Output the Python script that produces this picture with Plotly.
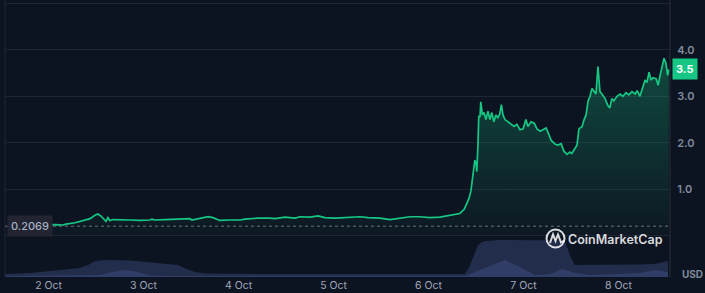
import datetime as dt
import math
import plotly.graph_objects as go

BASE = dt.datetime(2024, 10, 1, 13, 0)

# Price series: hours since BASE, price in USD
price_hours = [0.8, 3.8, 6.3, 9.6, 12.6, 14.7, 15.4, 17.7, 20.2, 21.5, 22.7, 23.5, 24.3, 25.0, 25.5,
               26.0, 26.5, 27.3, 29.1, 31.6, 34.1, 36.6, 37.1, 37.9, 40.4, 42.9, 46.7, 47.2, 49.3,
               51.3, 52.5, 54.3, 56.8, 59.4, 60.6, 63.9, 66.9, 68.2, 70.7, 73.3, 74.5, 77.1, 79.1,
               80.8, 83.4, 85.9, 88.4, 89.7, 91.7, 94.7, 97.3, 99.8, 102.3, 104.8, 107.4, 109.9,
               111.2, 112.9, 113.7, 114.9, 116.0, 116.7, 117.2, 117.7, 118.1, 118.5, 118.7, 119.0,
               119.2, 119.5, 119.7, 120.0, 120.2, 120.6, 121.0, 121.5, 122.0, 122.5, 123.0, 123.5,
               124.0, 124.5, 125.0, 125.4, 125.8, 126.3, 127.1, 127.8, 128.6, 129.3, 130.1, 130.9,
               131.6, 132.1, 132.9, 133.7, 134.4, 135.2, 135.9, 136.7, 137.2, 138.0, 139.0, 139.7,
               140.5, 141.2, 142.0, 142.7, 143.2, 144.0, 144.5, 145.0, 145.8, 146.3, 146.8, 147.3,
               147.8, 148.3, 148.8, 149.3, 149.8, 150.3, 150.8, 151.6, 152.3, 152.8, 153.3, 153.8,
               154.6, 155.4, 156.1, 156.9, 157.6, 158.4, 159.2, 159.7, 160.4, 160.9, 161.7, 162.2,
               162.7, 163.2, 163.7, 164.5, 165.0, 165.5, 166.0, 166.5, 167.0, 167.4, 167.7]
price_values = [0.23, 0.235, 0.24, 0.245, 0.24, 0.232, 0.25, 0.28, 0.33, 0.37, 0.44, 0.47, 0.42, 0.36, 0.31,
                0.39, 0.33, 0.35, 0.35, 0.34, 0.33, 0.34, 0.36, 0.34, 0.35, 0.36, 0.37, 0.34, 0.38,
                0.41, 0.39, 0.33, 0.34, 0.34, 0.36, 0.38, 0.38, 0.37, 0.40, 0.38, 0.41, 0.40, 0.43,
                0.39, 0.38, 0.39, 0.40, 0.41, 0.39, 0.38, 0.35, 0.38, 0.41, 0.41, 0.39, 0.40,
                0.42, 0.45, 0.46, 0.48, 0.57, 0.69, 0.80, 0.96, 1.2, 1.46, 1.63, 1.55,
                1.38, 2.0, 2.58, 2.55, 2.88, 2.6, 2.65, 2.5, 2.68, 2.5, 2.65, 2.45,
                2.6, 2.54, 2.62, 2.82, 2.6, 2.5, 2.45, 2.42, 2.35, 2.4, 2.28, 2.3,
                2.5, 2.35, 2.45, 2.42, 2.3, 2.25, 2.28, 2.32, 2.22, 2.05, 1.97, 1.95,
                1.98, 1.82, 1.75, 1.8, 1.77, 1.87, 1.95, 2.3, 2.35, 2.5, 2.6, 2.9,
                3.0, 3.17, 3.12, 3.05, 3.64, 3.1, 3.05, 2.95, 2.8, 2.75, 2.95, 2.9,
                3.0, 3.05, 3.0, 3.08, 3.03, 3.1, 3.05, 3.12, 3.0, 3.15, 3.35, 3.3,
                3.52, 3.35, 3.4, 3.38, 3.24, 3.45, 3.62, 3.82, 3.7, 3.45, 3.58]

# Volume (two area layers), arbitrary units
vol_outer_hours = [0, 6.3, 11.4, 18.9, 21.0, 22.2, 24.0, 26.5, 31.6, 36.6, 41.7, 43.7, 45.5, 48.0, 50.5,
                   64.4, 87.2, 116.2, 117.0, 117.5, 118.5, 119.5, 120.5, 121.5, 125.0, 130.1, 135.2,
                   140.2, 141.5, 142.2, 143.0, 144.0, 146.5, 150.3, 155.4, 160.4, 164.2, 167.5]
vol_outer_values = [3, 4, 6, 9, 12, 15, 16.5, 17, 16.5, 14.5, 13, 12, 8.5, 5, 3.5,
                    3, 3, 3, 8, 12, 22, 32, 35, 36, 37, 37, 37,
                    36.5, 35, 28, 19, 12, 12, 12.5, 12, 12.5, 13, 16]
vol_inner_hours = [0, 22.7, 24.0, 27.0, 30.3, 33.6, 36.6, 41.7, 116.2, 120.0, 126.3, 130.1, 133.9,
                   137.7, 140.8, 144.0, 147.8, 155.4, 160.4, 164.2, 167.5]
vol_inner_values = [1, 1.5, 2, 5, 7, 5, 1.5, 1, 1, 7, 17, 10, 2,
                    3, 8, 4, 2, 3, 4, 7, 5]

ref_price = 0.2069
tick_days = [2, 3, 4, 5, 6, 7, 8]
tick_labels = [f"{d} Oct" for d in tick_days]
y_ticks = [0, 1, 2, 3, 4, 5]
y_labels = ["", "1.0", "2.0", "3.0", "4.0", ""]

BG = "#0d1421"
GREEN = "#16c784"


def to_time(hours):
    return [BASE + dt.timedelta(hours=h) for h in hours]


fig = go.Figure()

fig.add_trace(go.Scatter(
    x=to_time(vol_outer_hours), y=vol_outer_values, yaxis="y2", mode="lines",
    line=dict(width=0, color="rgba(60,75,125,0.5)"), fill="tozeroy",
    fillcolor="rgba(52,66,112,0.55)", hoverinfo="skip", showlegend=False))
fig.add_trace(go.Scatter(
    x=to_time(vol_inner_hours), y=vol_inner_values, yaxis="y2", mode="lines",
    line=dict(width=0, color="rgba(70,85,140,0.5)"), fill="tozeroy",
    fillcolor="rgba(66,82,135,0.45)", hoverinfo="skip", showlegend=False))

fig.add_trace(go.Scatter(
    x=to_time(price_hours), y=price_values, mode="lines",
    line=dict(color=GREEN, width=1.7), fill="tozeroy",
    fillgradient=dict(type="vertical", start=0, stop=3.8,
                      colorscale=[[0, "rgba(22,199,132,0.02)"], [1, "rgba(22,199,132,0.30)"]]),
    showlegend=False))

x0 = BASE
x1 = BASE + dt.timedelta(hours=168)
last = price_values[-1]
badge_text = f"{math.floor(last * 10) / 10:.1f}"

fig.update_layout(
    width=705, height=293,
    margin=dict(l=5, r=35, t=0, b=16),
    paper_bgcolor=BG, plot_bgcolor=BG,
    font=dict(family="Inter, Noto Sans, sans-serif", color="#a1a7bb", size=11),
    xaxis=dict(type="date", range=[x0, x1], showgrid=False, zeroline=False, showline=False,
               automargin=False,
               tickvals=[dt.datetime(2024, 10, d) for d in tick_days], ticktext=tick_labels,
               ticks="", ticklen=0,
               tickfont=dict(size=10.5, color="#a1a7bb")),
    yaxis=dict(side="right", range=[-0.886, 5.071], tickvals=y_ticks, ticktext=y_labels,
               automargin=False,
               showgrid=True, gridcolor="#1e2533", gridwidth=1, zeroline=False, showline=False,
               ticks="outside", ticklen=4, tickcolor=BG,
               tickfont=dict(size=11, color="#808a9d", family="Inter, sans-serif", weight=600)),
    yaxis2=dict(domain=[0, 41 / 277], range=[0, 41], visible=False, anchor="x"),
    shapes=[
        dict(type="line", xref="paper", yref="paper", x0=0, x1=0, y0=0, y1=1,
             line=dict(color="#1e2533", width=1)),
        dict(type="line", xref="paper", yref="paper", x0=1, x1=1, y0=0, y1=1,
             line=dict(color="#2a303d", width=1)),
        dict(type="line", xref="paper", yref="y", x0=0, x1=1, y0=ref_price, y1=ref_price,
             line=dict(color="#6b7080", width=1, dash="dot")),
        dict(type="circle", xref="paper", yref="paper", x0=0.8143, x1=0.8414, y0=0.1065, y1=0.1715,
             line=dict(color="rgba(255,255,255,0.85)", width=2)),
        dict(type="path", xref="paper", yref="paper",
             path="M0.8195,0.1227 L0.8241,0.1534 L0.8278,0.1300 L0.8316,0.1534 L0.8361,0.1245 L0.8406,0.1318",
             line=dict(color="rgba(255,255,255,0.85)", width=2)),
    ],
    annotations=[
        dict(xref="paper", yref="y", x=0, y=ref_price, xanchor="left", yanchor="middle", xshift=2,
             text=f"{ref_price:.4f}", showarrow=False, bgcolor="#222531", borderpad=3,
             font=dict(size=11, color="#a6b0c3", family="Inter, sans-serif", weight=500)),
        dict(xref="paper", yref="y", x=1, y=last, xanchor="left", yanchor="middle",
             xshift=2, text=badge_text, showarrow=False, bgcolor=GREEN, borderpad=3,
             font=dict(size=11, color="#ffffff", family="Inter, sans-serif", weight=700)),
        dict(xref="paper", yref="paper", x=1, y=(277 - 274) / 277, xanchor="left", yanchor="middle",
             xshift=10, text="USD", showarrow=False,
             font=dict(size=10, color="#808a9d", family="Inter, sans-serif", weight=700)),
        dict(xref="paper", yref="paper", x=(566 - 5) / 665, y=(277 - 239) / 277, xanchor="left",
             yanchor="middle", text="CoinMarketCap", showarrow=False,
             font=dict(size=12.5, color="rgba(255,255,255,0.85)", family="Inter, sans-serif", weight=600)),
    ],
)

fig.write_html("out.html")
